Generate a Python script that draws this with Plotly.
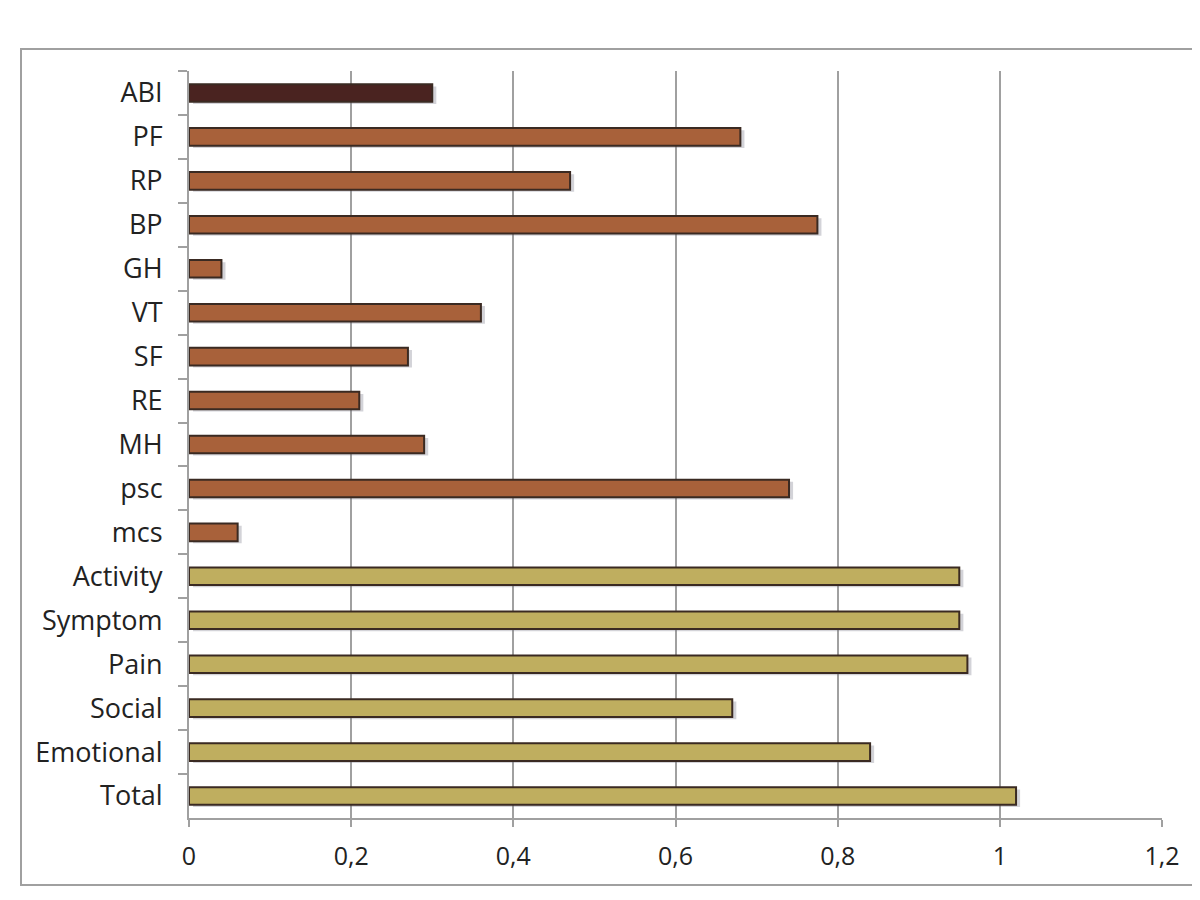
import plotly.graph_objects as go

categories = ["ABI", "PF", "RP", "BP", "GH", "VT", "SF", "RE", "MH", "psc", "mcs",
              "Activity", "Symptom", "Pain", "Social", "Emotional", "Total"]
values = [0.30, 0.68, 0.47, 0.775, 0.04, 0.36, 0.27, 0.21, 0.29, 0.74, 0.06,
          0.95, 0.95, 0.96, 0.67, 0.84, 1.02]
groups = ["abi"] + ["sf36"] * 10 + ["kccq"] * 6
group_colors = {"abi": "#4a2320", "sf36": "#a8613a", "kccq": "#bfae5f"}
colors = [group_colors[g] for g in groups]

fig = go.Figure()
# soft shadow
fig.add_trace(go.Bar(
    y=categories, x=values, orientation="h", base=0.005,
    width=0.4, offset=-0.15,
    marker=dict(color="rgba(110,110,125,0.3)", line=dict(width=0)),
    hoverinfo="skip", showlegend=False,
))
fig.add_trace(go.Bar(
    y=categories, x=values, orientation="h",
    width=0.4, offset=-0.2,
    marker=dict(color=colors, line=dict(color="#3a2a22", width=2)),
    showlegend=False,
))

L, R, T, B = 181, 46, 63, 90
PW, PH = 1200 - L - R, 900 - T - B

fig.update_layout(
    width=1200, height=900,
    margin=dict(l=L, r=R, t=T, b=B, autoexpand=False),
    paper_bgcolor="white", plot_bgcolor="white",
    separators=", ",
    barmode="overlay",
    font=dict(family="Open Sans, Lato, sans-serif", color="#222222"),
    xaxis=dict(
        range=[0, 1.2], tickvals=[0, 0.2, 0.4, 0.6, 0.8, 1, 1.2],
        ticktext=["0", "0,2", "0,4", "0,6", "0,8", "1", "1,2"],
        showgrid=True, gridcolor="#a0a0a0", gridwidth=1.5,
        showline=True, linecolor="#a0a0a0", linewidth=2,
        ticks="outside", ticklen=7, tickcolor="#a0a0a0", tickwidth=2,
        tickfont=dict(size=25), zeroline=False, automargin=False,
        ticklabelstandoff=8,
    ),
    yaxis=dict(
        autorange="reversed", type="category",
        showline=True, linecolor="#a0a0a0", linewidth=2,
        ticks="outside", tickson="boundaries", ticklen=9,
        tickcolor="#a0a0a0", tickwidth=2,
        tickfont=dict(size=27), showgrid=False, automargin=False,
        ticklabelstandoff=19,
    ),
    shapes=[dict(
        type="rect", xref="paper", yref="paper",
        x0=(13 - L) / PW, x1=(1190 - L) / PW,
        y0=(900 - 877 - B) / PH, y1=(900 - 41 - B) / PH,
        line=dict(color="#a0a0a0", width=2), layer="below",
    )],
)

fig.write_html("out.html")
